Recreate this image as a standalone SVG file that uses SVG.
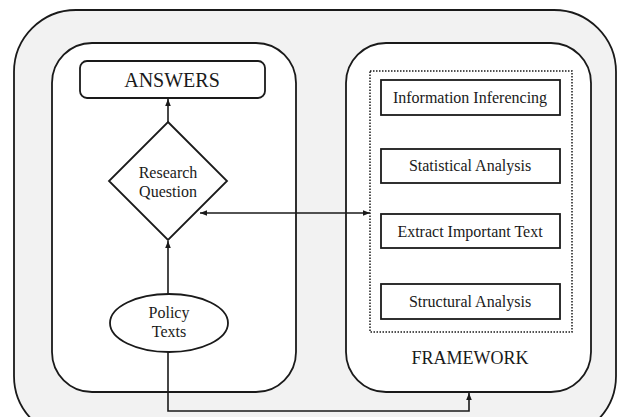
<svg xmlns="http://www.w3.org/2000/svg" width="629" height="417" viewBox="0 0 629 417">
<defs>
<style>
.b{stroke:#1a1a1a;stroke-width:1.8;}
.t{font-family:"Liberation Serif",serif;fill:#1a1a1a;text-anchor:middle;}
.c{fill:none;stroke:#1a1a1a;stroke-width:1.6;}
</style>
<marker id="ah" viewBox="0 0 10 10" refX="10" refY="5" markerWidth="8" markerHeight="7" orient="auto-start-reverse" markerUnits="userSpaceOnUse">
<path d="M0,1 L10,5 L0,9 Z" fill="#1a1a1a"/>
</marker>
</defs>
<g id="outer"><rect x="14" y="10" width="602" height="428" rx="62" fill="#f2f2f2" class="b"/></g>
<g id="left-panel"><rect x="52" y="43" width="244" height="349" rx="40" fill="#fff" class="b"/></g>
<g id="right-panel"><rect x="346" y="43" width="245" height="349" rx="40" fill="#fff" class="b"/>
<text class="t" x="470" y="364" font-size="18">FRAMEWORK</text></g>
<g id="answers"><rect x="80" y="61" width="185" height="37" rx="7" fill="#fff" class="b"/>
<text class="t" x="172" y="87" font-size="20">ANSWERS</text></g>
<g id="research-question"><polygon points="168,122 227,181 168,240 109,181" fill="#fff" class="b"/>
<text class="t" x="168" y="178" font-size="16">Research</text>
<text class="t" x="168" y="197" font-size="16">Question</text></g>
<g id="policy-texts"><ellipse cx="169" cy="323" rx="59" ry="29" fill="#fff" class="b"/>
<text class="t" x="169" y="318" font-size="16">Policy</text>
<text class="t" x="169" y="337" font-size="16">Texts</text></g>
<g id="framework-group"><rect x="370" y="71" width="202" height="261" fill="none" stroke="#1a1a1a" stroke-width="1.5" stroke-dasharray="1.5,1.5"/></g>
<g id="info"><rect x="381" y="80" width="179" height="35" fill="#fff" class="b"/>
<text class="t" x="470" y="103" font-size="16">Information Inferencing</text></g>
<g id="stat"><rect x="381" y="149" width="179" height="34" fill="#fff" class="b"/>
<text class="t" x="470" y="171" font-size="16">Statistical Analysis</text></g>
<g id="extract"><rect x="381" y="214" width="179" height="34" fill="#fff" class="b"/>
<text class="t" x="470" y="237" font-size="16">Extract Important Text</text></g>
<g id="struct"><rect x="381" y="284" width="179" height="35" fill="#fff" class="b"/>
<text class="t" x="470" y="307" font-size="16">Structural Analysis</text></g>
<g id="connectors">
<line class="c" x1="168" y1="122" x2="168" y2="99" marker-end="url(#ah)"/>
<line class="c" x1="168" y1="294" x2="168" y2="241" marker-end="url(#ah)"/>
<line class="c" x1="200" y1="213" x2="370" y2="213" marker-start="url(#ah)" marker-end="url(#ah)"/>
<polyline class="c" points="168,352 168,411 469,411 469,393" marker-end="url(#ah)"/>
</g>
</svg>
